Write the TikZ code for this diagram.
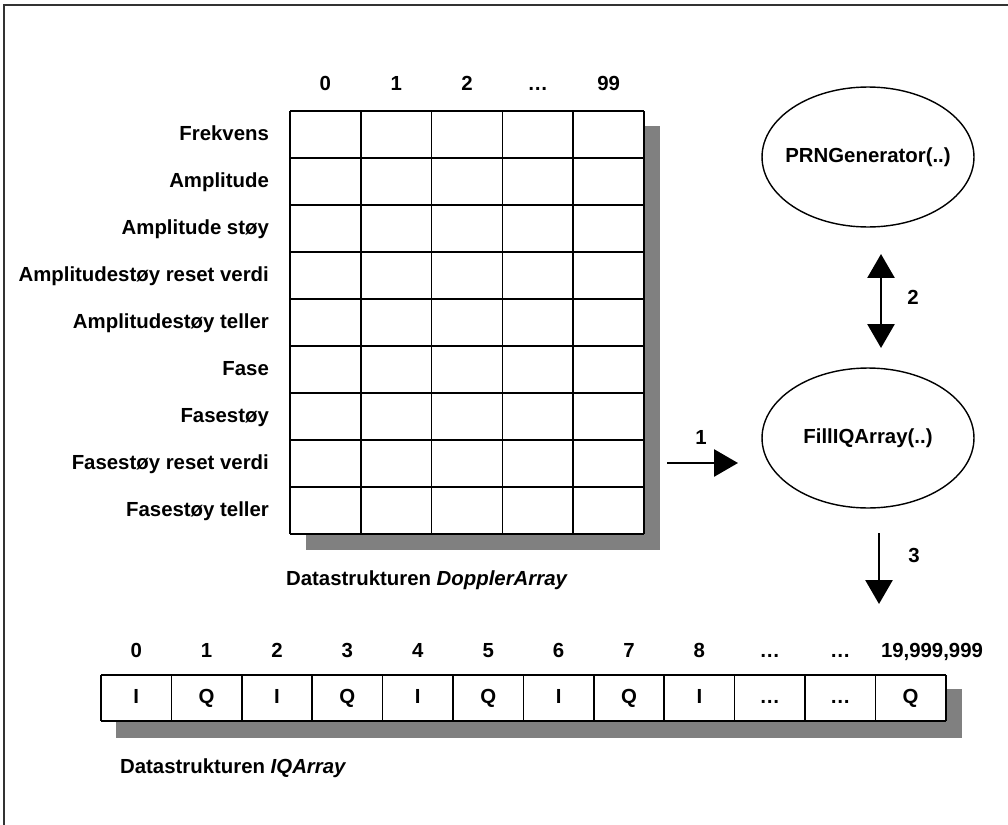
\documentclass[tikz,border=0pt]{standalone}
\usepackage{fontspec}
\setmainfont{Liberation Sans}
\usetikzlibrary{positioning,arrows.meta,shapes.geometric}

\tikzset{
  lbl/.style={font=\fontsize{11.6}{14}\selectfont\bfseries, inner sep=1pt,
              text height=1.6ex, text depth=0.4ex},
  gridline/.style={line width=1pt},
  shadowbox/.style={fill=black!50},
  func/.style={draw, ellipse, line width=0.8pt, inner sep=0pt,
               minimum width=4.24cm, minimum height=2.8cm},
  flow/.style={line width=1.6pt, -{Triangle[width=0.54cm,length=0.48cm]}},
  flowboth/.style={line width=1.6pt,
                   {Triangle[width=0.54cm,length=0.48cm]}-{Triangle[width=0.54cm,length=0.48cm]}}
}

\begin{document}
\begin{tikzpicture}[x=0.02cm, y=-0.02cm]

\useasboundingbox (0,0) rectangle (1008,825);

% Outer frame (only top and left edges are visible)
\draw[line width=1.1pt, black!80] (4,825) -- (4,5) -- (1008,5);

% DopplerArray table: shadow, cells, grid
\fill[shadowbox] (306,126) rectangle (660,550);
\fill[white] (290,111) rectangle (644,534);
\foreach \c in {0,...,5} {
  \draw[gridline] ({290+70.8*\c},111) -- ({290+70.8*\c},534);
}
\foreach \r in {0,...,9} {
  \draw[gridline] (290,{111+47*\r}) -- (644,{111+47*\r});
}

% Column indices
\foreach \lab [count=\i] in {0,1,2,{…},99} {
  \node[lbl] (dcol\i) at ({290+70.8*(\i-0.5)},85) {\lab};
}

% Row labels
\foreach \lab [count=\i] in {Frekvens, Amplitude, Amplitude støy,
    Amplitudestøy reset verdi, Amplitudestøy teller, Fase, Fasestøy,
    Fasestøy reset verdi, Fasestøy teller} {
  \node[lbl, anchor=east] (drow\i) at (271,{111+47*(\i-0.5)}) {\lab};
}

\node[lbl, anchor=west] (dcap) at (284,580) {Datastrukturen \textit{DopplerArray}};

% Functions
\node[func] (prng) at (868,157) {};
\node[lbl] (prngtxt) at (prng) {PRNGenerator(..)};
\node[func] (filliq) at (868,438) {};
\node[lbl] (filliqtxt) at (filliq) {FillIQArray(..)};

% Arrows with step numbers
\coordinate (a1from) at (667,463);
\coordinate (a1to) at (738,463);
\draw[flow] (a1from) -- (a1to);
\node[lbl] (n1) at (701,439) {1};

\coordinate (a2top) at (881,254);
\coordinate (a2bot) at (881,348);
\draw[flowboth] (a2top) -- (a2bot);
\node[lbl] (n2) at (913,299) {2};

\coordinate (a3from) at (879,533);
\coordinate (a3to) at (879,604);
\draw[flow] (a3from) -- (a3to);
\node[lbl] (n3) at (914,557) {3};

% IQArray: shadow, cells
\fill[shadowbox] (116,689) rectangle (962,738);
\fill[white] (101,675) rectangle (946,721);
\draw[gridline] (101,675) -- (946,675);
\draw[gridline] (101,721) -- (946,721);
\foreach \c in {0,...,12} {
  \draw[gridline] ({101+70.4*\c},675) -- ({101+70.4*\c},721);
}

\foreach \val [count=\i] in {I,Q,I,Q,I,Q,I,Q,I,{…},{…},Q} {
  \node[lbl] (iq\i) at ({101+70.4*(\i-0.5)},698) {\val};
}
\foreach \lab [count=\i] in {0,1,2,3,4,5,6,7,8,{…},{…}} {
  \node[lbl] (iqcol\i) at ({101+70.4*(\i-0.5)},652) {\lab};
}
\node[lbl] (iqcol12) at (932,652) {19,999,999};

\node[lbl, anchor=west] (iqcap) at (118,768) {Datastrukturen \textit{IQArray}};

\end{tikzpicture}
\end{document}
